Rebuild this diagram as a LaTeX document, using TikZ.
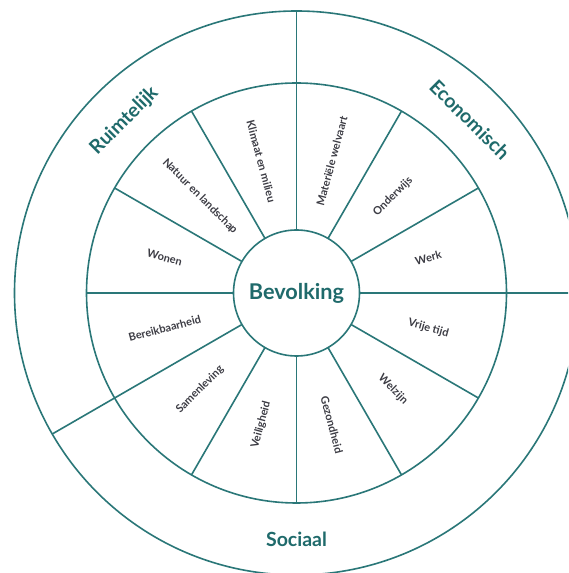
\documentclass[tikz,border=0pt]{standalone}
\usepackage{fontspec}
\setmainfont{Lato}
\usetikzlibrary{calc}
\definecolor{ringline}{HTML}{2A7778}
\definecolor{tealtext}{HTML}{1F6A6B}
\definecolor{labeltext}{HTML}{3C3C44}
\begin{document}
\begin{tikzpicture}[x=1pt,y=1pt,
  ring/.style={circle, draw=ringline, line width=1.6pt, inner sep=0pt, outer sep=0pt},
  spoke/.style={draw=ringline, line width=1.6pt},
  seglabel/.style={font=\fontsize{11}{12}\selectfont\bfseries, text=labeltext, inner sep=0pt},
  sectorlabel/.style={font=\fontsize{19.5}{22}\selectfont\bfseries, text=tealtext, inner sep=0pt, anchor=base},
  centerlabel/.style={font=\fontsize{21.7}{24}\selectfont\bfseries, text=tealtext}]
\useasboundingbox (0,0) rectangle (568,573);
\clip (0,0) rectangle (568,573);
\fill[white] (0,0) rectangle (568,573);
\coordinate (O) at (296.5,280);
% rings
\node[ring, minimum size=564pt] (outer) at (O) {};
\node[ring, minimum size=420pt] (middle) at (O) {};
\node[ring, minimum size=126pt, centerlabel] (bev) at (O) {Bevolking};
% inner spokes
\foreach \a in {0,30,...,330} {
  \draw[spoke] (bev.\a) -- (middle.\a);
}
% outer spokes
\foreach \a in {0,90,210} {
  \draw[spoke] (middle.\a) -- (outer.\a);
}
% segment labels
\foreach \a/\r/\t [count=\i] in {
  15/15/Werk,
  45/45/Onderwijs,
  75/75/Materiële welvaart,
  105/-75/Klimaat en milieu,
  135/-45/Natuur en landschap,
  165/-15/Wonen,
  195/15/Bereikbaarheid,
  225/45/Samenleving,
  255/75/Veiligheid,
  285/-75/Gezondheid,
  315/-45/Welzijn,
  345/-15/Vrije tijd} {
  \node[seglabel, rotate=\r] (seg\i) at ($(O)+(\a:136.5)$) {\t};
}
% sector labels
\node[sectorlabel, rotate=45] (ruimtelijk) at ($(O)+(135:238)$) {Ruimtelijk};
\node[sectorlabel, rotate=-45] (economisch) at ($(O)+(45:238)$) {Economisch};
\node[sectorlabel] (sociaal) at ($(O)+(0,-254)$) {Sociaal};
\end{tikzpicture}
\end{document}
